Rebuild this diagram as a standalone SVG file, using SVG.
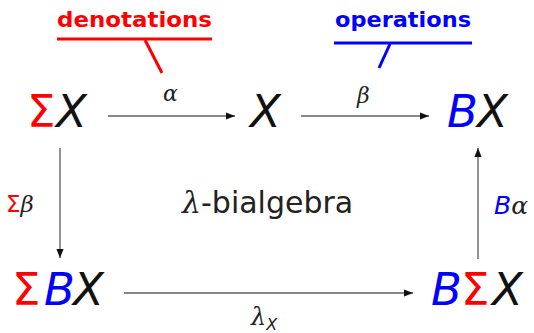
<svg xmlns="http://www.w3.org/2000/svg" width="534" height="333" viewBox="0 0 534 333">
<defs>
<marker id="ah" viewBox="0 0 10 10" refX="10" refY="5" markerWidth="9" markerHeight="9" markerUnits="userSpaceOnUse" orient="auto">
<path d="M0,1 L10,5 L0,9 Z" fill="#111"/>
</marker>
</defs>
<style>
.obj{font-family:"DejaVu Sans",sans-serif;font-size:45px}
.it{font-style:italic}
.r{fill:#ff0000}
.b{fill:#0000ff}
.k{fill:#111}
.math{font-family:"DejaVu Serif","Liberation Serif",serif;font-style:italic;fill:#222}
.note{font-family:"DejaVu Sans",sans-serif;font-weight:bold;font-size:22px}
.h{stroke:#111;stroke-width:1.2;fill:none}
.v{stroke:#777;stroke-width:1.6;fill:none}
</style>
<rect width="534" height="333" fill="#ffffff"/>

<g id="denotations">
<text class="note r" x="57" y="27" textLength="155" lengthAdjust="spacingAndGlyphs">denotations</text>
<line x1="57" y1="39" x2="212" y2="39" stroke="#ff0000" stroke-width="3"/>
<line x1="145" y1="40" x2="162" y2="73" stroke="#ff0000" stroke-width="3"/>
</g>

<g id="operations">
<text class="note b" x="335" y="27" textLength="136" lengthAdjust="spacingAndGlyphs">operations</text>
<line x1="334" y1="43" x2="472" y2="43" stroke="#0000ff" stroke-width="3"/>
<line x1="390" y1="44" x2="379" y2="68" stroke="#0000ff" stroke-width="3"/>
</g>

<g id="SigmaX">
<text class="obj" y="127"><tspan class="r" x="27">Σ</tspan><tspan class="k it" x="56">X</tspan></text>
</g>

<g id="X">
<text class="obj k it" x="250" y="127">X</text>
</g>

<g id="BX">
<text class="obj it" y="127"><tspan class="b" x="447">B</tspan><tspan class="k" x="477">X</tspan></text>
</g>

<g id="SigmaBX">
<text class="obj" y="305"><tspan class="r" x="12">Σ</tspan><tspan class="b it" x="44">B</tspan><tspan class="k it" x="73">X</tspan></text>
</g>

<g id="BSigmaX">
<text class="obj" y="305"><tspan class="b it" x="431">B</tspan><tspan class="r" x="461">Σ</tspan><tspan class="k it" x="492">X</tspan></text>
</g>

<g id="label-bialgebra">
<text x="182" y="213" style="font-family:'DejaVu Sans',sans-serif;font-size:30px;fill:#222"><tspan style="font-family:'DejaVu Serif',serif;font-style:italic">λ</tspan>-bialgebra</text>
</g>

<g id="connectors">
<line class="h" x1="108" y1="116" x2="235" y2="116" marker-end="url(#ah)"/>
<line class="h" x1="301" y1="116" x2="429" y2="116" marker-end="url(#ah)"/>
<line class="h" x1="124" y1="293" x2="413" y2="293" marker-end="url(#ah)"/>
<line class="v" x1="60" y1="148" x2="60" y2="258" marker-end="url(#ah)"/>
<line class="v" x1="478" y1="259" x2="478" y2="148" marker-end="url(#ah)"/>
<text class="math" x="163" y="101" font-size="22">α</text>
<text class="math" x="357" y="103" font-size="22">β</text>
<text y="212" font-size="23"><tspan x="6" style="font-family:'DejaVu Sans',sans-serif;fill:#ff0000">Σ</tspan><tspan class="math">β</tspan></text>
<text y="214" font-size="25"><tspan x="494" style="font-family:'DejaVu Sans',sans-serif;font-style:italic;fill:#0000ff">B</tspan><tspan class="math">α</tspan></text>
<text x="251" y="325" class="math" font-size="24">λ<tspan style="font-family:'DejaVu Sans',sans-serif;font-size:16px" dy="5">X</tspan></text>
</g>
</svg>
